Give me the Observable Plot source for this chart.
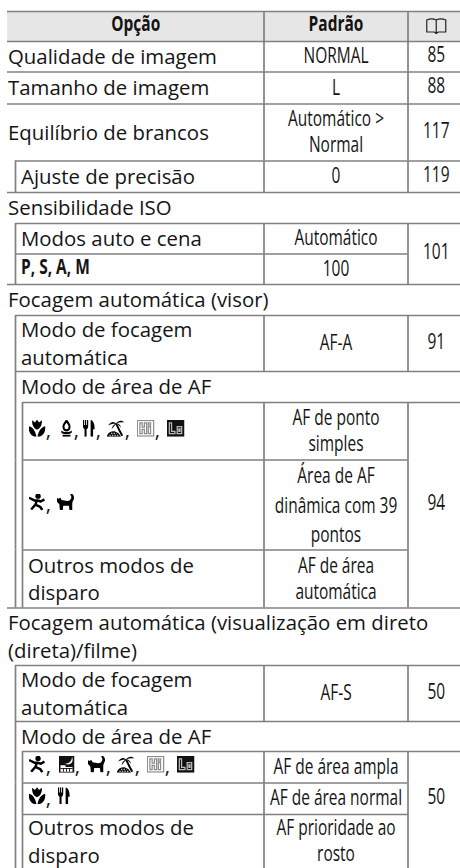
<!DOCTYPE html>
<html><head><meta charset="utf-8">
<style>html,body{margin:0;padding:0;background:#fff}svg{display:block}</style>
<script src="https://cdn.jsdelivr.net/npm/d3@7"></script>
<script src="https://cdn.jsdelivr.net/npm/@observablehq/plot@0.6"></script>
</head><body><div id="chart"></div>
<script>
// ---------- table content ----------
const headers = ["Opção", "Padrão"];
const optionLabels = [
  "", "Qualidade de imagem", "Tamanho de imagem", "Equilíbrio de brancos", "Ajuste de precisão",
  "Sensibilidade ISO", "Modos auto e cena", "", "Focagem automática (visor)",
  "Modo de focagem\nautomática", "Modo de área de AF", "", "", "Outros modos de\ndisparo",
  "Focagem automática (visualização em direto\n(direta)/filme)", "Modo de focagem\nautomática",
  "Modo de área de AF", "", "", "Outros modos de\ndisparo"
];
const boldLabels = ["P, S, A, M"];
const boldLabelRows = [7];
const defaults = [
  "", "NORMAL", "L", "Automático >\nNormal", "0", "", "Automático", "100", "",
  "AF-A", "", "AF de ponto\nsimples", "", "AF de área\nautomática",
  "", "AF-S", "", "AF de área ampla", "AF de área normal", "AF prioridade ao\nrosto"
];
const tripleDefault = "Área de AF\ndinâmica com 39\npontos";
const tripleDefaultRow = 12;
const pageRefs = ["85", "88", "117", "119", "101", "91", "94", "50", "50"];
const pageRefRows = [1.5, 2.5, 3.5, 4.5, 7, 9.5, 12.5, 15.5, 18.5];
const rowDepths = [0,0,0,0,1,0,1,1,0,1,1,2,2,2,0,1,1,2,2,2];
const sectionRows = [5, 8, 10, 14, 16];
const mergedTopRows = [7, 12, 13, 18, 19];

// icon sequences in the mode rows
const iconRows = [
  {row: 11, items: ["tulip","flame","fork","beach","hi","lo"]},
  {row: 12, items: ["runner","cat"]},
  {row: 17, items: ["runner","night","cat","beach","hi","lo"]},
  {row: 18, items: ["tulip","fork"]}
];

// ---------- layout ----------
const rowEdges = [11,41,71.5,103.5,160.5,192,223,253.5,284,315,371,402,459.5,549.5,607.5,665,721,751,782.5,814,868];
const colEdges = [7,15,22,263.5,407.5,460];
const iconWidth = {tulip:17,flame:14,fork:13,beach:18,hi:18,lo:18,runner:17,cat:18,night:16};
const iconGaps = {11: [14,9,11,12,12], 12: [11], 17: [13,13,11,12,12], 18: [12]};
const LINE = "#808080", INK = "#141414", HEAD = "#e6e6e6";

const svgIcon = (inner, w=32, h=32) => "data:image/svg+xml," + encodeURIComponent(
  `<svg xmlns="http://www.w3.org/2000/svg" viewBox="0 0 ${w} ${h}" width="${w}" height="${h}">${inner}</svg>`);
const iconSrc = {
  tulip: svgIcon(`<path fill="#000" d="M16 19C9 16 6 9 7 1l5 4 4-5 4 5 5-4c1 8-2 15-9 18z"/><path fill="#000" d="M15 32C7 32 0 26 0 12c7 1 13 8 15 20zM17 32c8 0 15-6 15-20-7 1-13 8-15 20z"/>`),
  flame: svgIcon(`<path fill="none" stroke="#000" stroke-width="4.500" d="M16 2c5 5 7 8 7 11a7 7 0 0 1-14 0C9 10 11 7 16 2z"/><path fill="#000" d="M4 20c2 1 4 3 12 3s10-2 12-3v4c-2 2-5 3-12 3s-10-1-12-3zM7 28h18v4H7z"/>`),
  fork: svgIcon(`<path fill="#000" d="M1 0h3v10h2V0h3v10h2V0h3v12c0 3-2 5-4 6v14H5V18c-2-1-4-3-4-6zM20 0c7 2 10 8 10 18h-4v14h-6z"/>`),
  beach: svgIcon(`<path fill="none" stroke="#000" stroke-width="3.500" d="M17 7c3 7 6 14 11 23"/><path fill="#000" d="M18 8C14 2 7 3 3 11c5-3 10-4 15-3zM17 7c4-6 10-7 15-2-5-1-10 0-15 2zM18 7c-5 1-8 5-9 11 3-4 6-8 9-11zM18 7c4 0 7 3 8 8-3-3-5-6-8-8z"/><path fill="#000" d="M0 32c2-7 8-11 15-10 5 1 8 5 11 10z"/><path fill="none" stroke="#fff" stroke-width="1.800" stroke-dasharray="2.500 2" d="M5 29h17M8 25.500h10"/>`),
  hi: svgIcon(`<rect x="1.300" y="1.300" width="29.400" height="29.400" fill="#fff" stroke="#8c8c8c" stroke-width="2.600"/><path fill="none" stroke="#8c8c8c" stroke-width="2.200" d="M6 6h4v8h4V6h4v20h-4v-8h-4v8H6zM21 6h4v4h-4zM21 13h4v13h-4z"/>`),
  lo: svgIcon(`<rect width="32" height="32" fill="#111"/><path fill="none" stroke="#bbb" stroke-width="2.200" d="M5 6h4v16h6v4H5zM19 13h8v13h-8zM22 17v5h2v-5z"/>`),
  runner: svgIcon(`<circle cx="18" cy="5" r="5" fill="#000"/><path fill="none" stroke="#000" stroke-width="4.600" stroke-linejoin="round" d="M1 8l10 5 6 0 6 2 7-4M16 13l-3 8 9 4 4 6M13 21L5 30"/>`),
  cat: svgIcon(`<path fill="#000" d="M0 7l3 3 4-2 2 4 10 2c4 0 6-2 7-5s0-5-2-7l3-2c3 2 5 6 4 10-1 3-3 6-3 9v12h-5l-1-8H12l-1 8H6l-1-11-3-3c-2-2-2-6-2-10z"/>`),
  night: svgIcon(`<rect width="32" height="32" fill="#111"/><path fill="#fff" d="M27 2c0 8-5 13-14 13 9 4 19-2 14-13z"/><path fill="#fff" d="M4 18h10v3h14v9H4z"/><path fill="none" stroke="#111" stroke-width="1.800" d="M4 24h24M10 24v6M16 24v6M22 24v6"/>`),
  book: svgIcon(`<path fill="none" stroke="#222" stroke-width="1.200" d="M1.500 3C5 1.500 8 1.500 11 3c3-1.500 6-1.500 9.500 0V15H13l-2 1.500L9 15H1.500zM11 3v13"/>`, 22, 19)
};

// ---------- derived tables for the marks ----------
const rowIndex = rowDepths.map((d, i) => i);
const hRuleData = rowIndex.map(r => ({
  row: r,
  from: rowDepths[r],
  to: mergedTopRows.includes(r) ? 4 : 5
}));
const vRuleData = rowIndex.flatMap(r => {
  const cells = [];
  if (rowDepths[r] >= 1) cells.push({col: 1, row: r});
  if (rowDepths[r] >= 2) cells.push({col: 2, row: r});
  if (!sectionRows.includes(r)) cells.push({col: 3, row: r}, {col: 4, row: r});
  return cells;
});
const labelData = rowIndex.filter(r => optionLabels[r]).map(r => ({
  row: r + 0.5, depth: rowDepths[r], text: optionLabels[r]
}));
const defaultData = rowIndex.filter(r => defaults[r]).map(r => ({row: r + 0.5, text: defaults[r]}));
const pageData = pageRefs.map((p, i) => ({row: pageRefRows[i], text: p}));
const colUnit = colEdges[3] - colEdges[2];
const optionCentre = 2 + ((colEdges[0] + colEdges[3]) / 2 - colEdges[2]) / colUnit;
const iconData = [], commaData = [];
for (const {row, items} of iconRows) {
  let px = 6;
  items.forEach((name, i) => {
    iconData.push({name, row: row + 0.5, x: 2 + (px + iconWidth[name] / 2) / colUnit, w: iconWidth[name]});
    px += iconWidth[name];
    if (i < items.length - 1) {
      commaData.push({row: row + 0.5, x: 2 + (px + 3) / colUnit});
      px += iconGaps[row][i];
    }
  });
}

const BODY = "'Open Sans'", SIZE = 20.5, LH = 27.5 / 20.5, CSIZE = 21.5;
const bodyText = {ariaDescription: "body", text: "text", x: "depth", y: "row", textAnchor: "start", dy: -1.5, fontFamily: BODY, fontSize: SIZE, lineHeight: LH, fill: INK};
const condText = {ariaDescription: "cond", fontFamily: BODY, fontSize: CSIZE, fill: INK};

const chart = Plot.plot({
  width: 460, height: 868,
  marginTop: 0, marginRight: 0, marginBottom: 0, marginLeft: 0,
  style: {background: "#fff"},
  x: {type: "linear", domain: colEdges.map((_, i) => i), range: colEdges, axis: null},
  y: {type: "linear", domain: rowEdges.map((_, i) => i), range: rowEdges, axis: null},
  marks: [
    Plot.rectY([{r1: 0, r2: 1}], {x1: () => 0, x2: () => 5, y1: "r1", y2: "r2", fill: HEAD}),
    Plot.ruleX(vRuleData, {x: "col", y1: "row", y2: d => d.row + 1, stroke: LINE, strokeWidth: 1.7}),
    Plot.ruleY(hRuleData, {y: "row", x1: "from", x2: "to", stroke: LINE, strokeWidth: 1.7}),
    Plot.text(labelData.filter(d => d.depth === 0), {...bodyText, dx: 0.5}),
    Plot.text(labelData.filter(d => d.depth > 0), {...bodyText, dx: 5.5}),
    Plot.text(boldLabels, {...condText, x: () => 1, y: (d, i) => boldLabelRows[i] + 0.5, text: d => d, textAnchor: "start", dx: 5.5, dy: -2, fontWeight: 700}),
    Plot.text(headers, {...condText, x: (d, i) => i === 0 ? optionCentre : 3.5, y: () => 0.5, text: d => d, dy: -2, fontWeight: 700}),
    Plot.text(defaultData, {...condText, x: () => 3.5, y: "row", text: "text", dy: -1.7, lineHeight: 26 / CSIZE}),
    Plot.text([tripleDefault], {...condText, x: () => 3.5, y: () => tripleDefaultRow + 0.5, text: d => d, dy: -1.7, lineHeight: 29.5 / CSIZE}),
    Plot.text(pageData, {...condText, x: () => 4.5, y: "row", text: "text", dx: 2, dy: -1.5}),
    Plot.text(commaData, {x: "x", y: "row", text: () => ",", dy: -0.5, fontFamily: BODY, fontSize: SIZE, fill: INK}),
    Plot.image(iconData, {x: "x", y: "row", width: "w", height: 17, src: d => iconSrc[d.name], dy: -3, preserveAspectRatio: "none"}),
    Plot.image(["book"], {x: () => 4.5, y: () => 0.5, width: 22, height: 19, src: d => iconSrc[d], dx: 2, dy: 0})
  ]
});
document.getElementById("chart").appendChild(chart);

// condensed look of the middle and page columns
d3.select(chart).selectAll('g[aria-description="cond"] text').attr("transform", function () {
  return (this.getAttribute("transform") || "") + " scale(0.72,1)";
});
d3.select(chart).selectAll('g[aria-description="body"] text').attr("transform", function () {
  return (this.getAttribute("transform") || "") + " scale(0.995,1)";
});
</script></body></html>
